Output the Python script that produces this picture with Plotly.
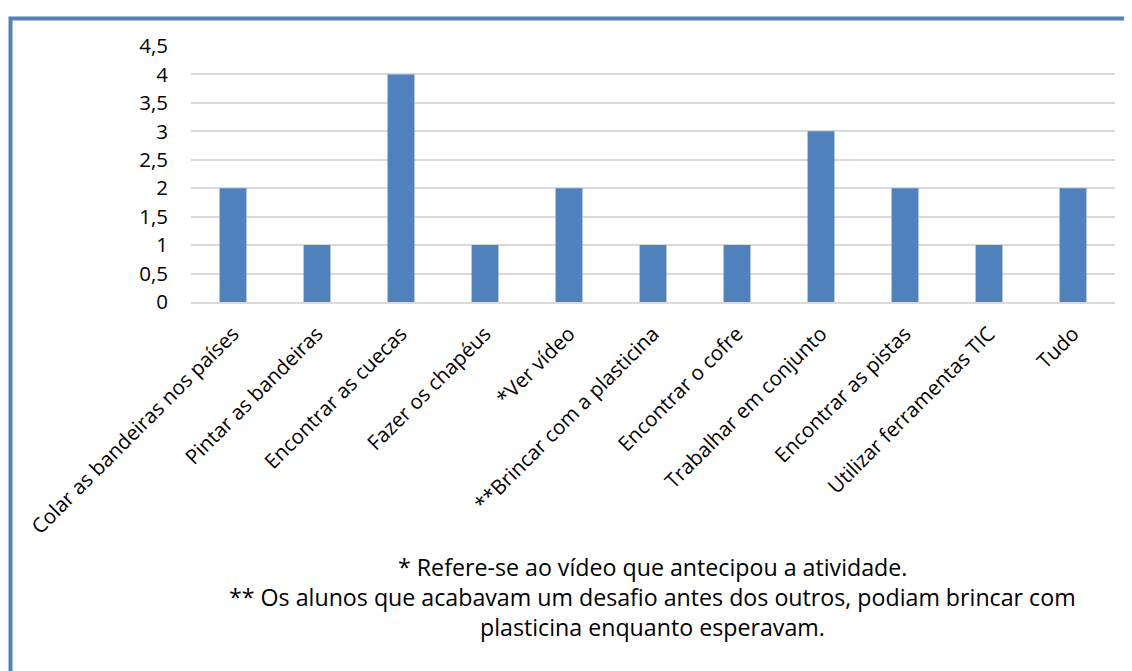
import plotly.graph_objects as go

categories = [
    "Colar as bandeiras nos países",
    "Pintar as bandeiras",
    "Encontrar as cuecas",
    "Fazer os chapéus",
    "*Ver vídeo",
    "**Brincar com a plasticina",
    "Encontrar o cofre",
    "Trabalhar em conjunto",
    "Encontrar as pistas",
    "Utilizar ferramentas TIC",
    "Tudo",
]
values = [2, 1, 4, 1, 2, 1, 1, 3, 2, 1, 2]

y_ticks = [0, 0.5, 1, 1.5, 2, 2.5, 3, 3.5, 4, 4.5]
y_tick_labels = ["0", "0,5", "1", "1,5", "2", "2,5", "3", "3,5", "4", "4,5"]

footnotes = [
    "* Refere-se ao vídeo que antecipou a atividade.",
    "** Os alunos que acabavam um desafio antes dos outros, podiam brincar com",
    "plasticina enquanto esperavam.",
]

FONT = "Open Sans"
BLUE = "#4f81bd"
OFF = 8  # page body margin

fig = go.Figure()
fig.add_trace(go.Bar(
    x=categories, y=values,
    marker=dict(color=BLUE, line=dict(width=0)),
    width=0.32,
))

W, H = 1132 - OFF, 671 - OFF
L, R, T, B = 191 - OFF, 1132 - 1115, 46 - OFF, 671 - 302
plot_h = H - T - B
plot_w = W - L - R

def py(p):
    return (H - B - (p - OFF)) / plot_h

def px(p):
    return ((p - OFF) - L) / plot_w

fig.update_layout(
    width=W, height=H,
    margin=dict(l=L, r=R, t=T, b=B, autoexpand=False),
    paper_bgcolor="white", plot_bgcolor="white",
    font=dict(family=FONT, size=20.5, color="#000000"),
    showlegend=False,
    xaxis=dict(
        tickangle=-45, showgrid=False, showline=True, linecolor="#d9d9d9", linewidth=1.5,
        ticks="", ticklabelstandoff=10,
        tickfont=dict(family=FONT, size=20.5, color="#000000"),
        range=[-0.5, len(categories) - 0.5],
    ),
    yaxis=dict(
        range=[0, 4.5], tickvals=y_ticks, ticktext=y_tick_labels,
        showgrid=True, gridcolor="#d9d9d9", gridwidth=1.5,
        zeroline=False, showline=False, ticks="", ticklabelstandoff=22,
        tickfont=dict(family=FONT, size=20.5, color="#000000"),
    ),
)

for txt, ypix in zip(footnotes, [567, 597, 627]):
    fig.add_annotation(
        text=txt, xref="paper", yref="paper",
        x=px(652), y=py(ypix), xanchor="center", yanchor="middle",
        showarrow=False, font=dict(family=FONT, size=23.2, color="#000000"),
    )

fig.add_shape(
    type="rect", xref="paper", yref="paper",
    x0=px(10.5), x1=px(1250), y0=py(18.5), y1=py(760),
    line=dict(color=BLUE, width=4), fillcolor="rgba(0,0,0,0)",
)

fig.write_html("out.html")
